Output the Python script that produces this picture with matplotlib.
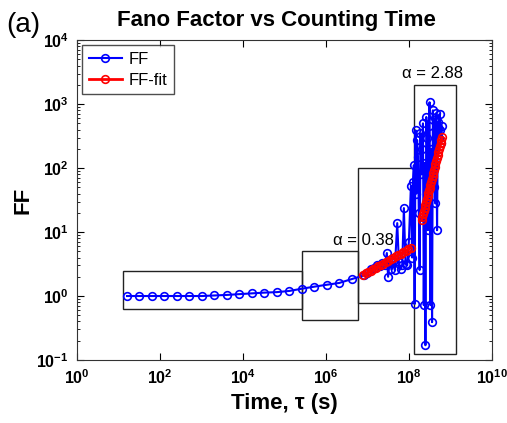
import matplotlib.pyplot as plt
from matplotlib.patches import Rectangle
import numpy as np

plt.rcParams['font.family'] = ['Liberation Sans', 'DejaVu Sans']

# FF (blue) : counting time and Fano factor
tau_ff = [16, 32, 64, 128, 256, 512, 1024, 2048, 4096, 8192, 16384, 32768,
          65536, 131072, 262144, 524288, 1048576, 2097152, 4194304, 8388608,
          1.00e7, 1.20e7, 1.41e7, 1.66e7, 2.00e7, 2.29e7, 2.63e7, 2.95e7,
          3.16e7, 3.47e7, 3.80e7, 4.17e7, 4.57e7, 5.25e7, 5.75e7, 6.31e7,
          6.92e7, 7.59e7, 8.32e7, 9.12e7, 1.00e8, 1.12e8, 1.20e8, 1.26e8,
          1.32e8, 1.38e8, 1.45e8, 1.51e8, 1.58e8, 1.66e8, 1.74e8, 1.82e8,
          1.91e8, 2.00e8, 2.09e8, 2.19e8, 2.29e8, 2.40e8, 2.51e8, 2.63e8,
          2.75e8, 2.88e8, 3.02e8, 3.16e8, 3.31e8, 3.47e8, 3.63e8, 3.80e8,
          3.98e8, 4.17e8, 4.37e8, 4.57e8, 4.79e8, 5.01e8, 5.25e8, 5.50e8,
          5.75e8, 6.03e8, 6.31e8]
ff = [1.0, 1.0, 1.0, 1.0, 1.0, 1.0, 1.0, 1.02, 1.04, 1.07, 1.1, 1.13,
      1.15, 1.2, 1.3, 1.4, 1.5, 1.6, 1.84, 2.1,
      2.3, 2.6, 2.7, 3.0, 2.9, 3.3, 3.1, 4.7,
      2.0, 3.6, 2.6, 3.4, 2.55, 13.8, 3.4, 2.6,
      3.0, 23.7, 3.2, 3.0, 7.0, 52, 4.0, 60,
      111, 0.75, 390, 40, 275, 150, 20, 2.55,
      350, 80, 200, 500, 0.72, 120, 0.17, 630,
      300, 10.7, 450, 1070, 0.72, 200, 0.39, 800,
      50, 600, 28, 720, 10.7, 520, 300, 700,
      400, 250, 450]

# FF-fit (red), two power-law segments
tau_fit1 = [7.94e6, 9.12e6, 1.05e7, 1.20e7, 1.38e7, 1.58e7, 1.82e7, 2.09e7,
            2.40e7, 2.75e7, 3.16e7, 3.63e7, 4.17e7, 4.79e7, 5.50e7, 6.31e7,
            7.24e7, 8.32e7, 9.55e7, 1.10e8]
ff_fit1 = [2.14, 2.25, 2.37, 2.49, 2.62, 2.76, 2.90, 3.05, 3.22, 3.39,
           3.56, 3.75, 3.95, 4.15, 4.37, 4.60, 4.84, 5.10, 5.37, 5.65]
tau_fit2 = [2.04e8, 2.12e8, 2.21e8, 2.30e8, 2.40e8, 2.50e8, 2.60e8, 2.71e8,
            2.82e8, 2.93e8, 3.05e8, 3.18e8, 3.31e8, 3.45e8, 3.59e8, 3.74e8,
            3.89e8, 4.05e8, 4.22e8, 4.39e8, 4.57e8, 4.76e8, 4.95e8, 5.16e8,
            5.37e8, 5.59e8, 5.82e8, 6.06e8, 6.31e8]
ff_fit2 = [15.5, 17.2, 19.1, 21.3, 23.7, 26.3, 29.2, 32.5, 36.2, 40.2,
           44.7, 49.7, 55.3, 61.5, 68.4, 76.0, 84.5, 94.0, 104, 116,
           129, 144, 160, 178, 197, 220, 244, 272, 302]

# boxes (x0, x1, y0, y1)
boxes = [(13, 2.6e5, 0.63, 2.45),
         (2.6e5, 5.9e6, 0.42, 5.0),
         (5.9e6, 1.32e8, 0.78, 100),
         (1.32e8, 1.35e9, 0.125, 2000)]
alpha_labels = ['\u03b1 = 0.38', '\u03b1 = 2.88']
alpha_pos = [(8.0e6, 5.6), (3.8e8, 2300)]

fig = plt.figure(figsize=(5.07, 4.23), dpi=100)
ax = fig.add_axes([0.152, 0.149, 0.818, 0.756])

ax.plot(tau_ff, ff, '-o', color='blue', lw=1.5, ms=5.5, mfc='none', mew=1.2, label='FF')
ax.plot(tau_fit1, ff_fit1, '-o', color='red', lw=2, ms=5.5, mfc='none', mew=1.2, label='FF-fit')
ax.plot(tau_fit2, ff_fit2, '-o', color='red', lw=2, ms=5.5, mfc='none', mew=1.2)

for x0, x1, y0, y1 in boxes:
    ax.add_patch(Rectangle((x0, y0), x1 - x0, y1 - y0, fill=False, ec='#222222', lw=1))

for s, (x, y) in zip(alpha_labels, alpha_pos):
    ax.text(x, y, s, fontsize=12, ha='center', va='bottom')

ax.set_xscale('log')
ax.set_yscale('log')
ax.set_xlim(1, 1e10)
ax.set_ylim(0.1, 1e4)
ax.set_xticks([1, 1e2, 1e4, 1e6, 1e8, 1e10])
ax.xaxis.set_minor_locator(plt.NullLocator())
ax.tick_params(which='both', direction='in', top=True, right=True, labelsize=11.5)
ax.tick_params(which='major', length=5, pad=6)
ax.tick_params(which='minor', length=2.5)
for lab in ax.get_xticklabels() + ax.get_yticklabels():
    lab.set_fontweight('bold')
for sp in ax.spines.values():
    sp.set_color('#333333')

ax.set_xlabel('Time, \u03c4 (s)', fontsize=16, fontweight='bold', labelpad=4)
ax.set_ylabel('FF', fontsize=16, fontweight='bold', labelpad=2)
ax.set_title('Fano Factor vs Counting Time', fontsize=16, fontweight='bold', pad=10, x=0.48)
fig.text(0.012, 0.925, '(a)', fontsize=20)

leg = ax.legend(loc='upper left', fontsize=12, fancybox=False, edgecolor='#222222',
                borderaxespad=0.3, handlelength=2.0, handletextpad=0.4,
                borderpad=0.4, labelspacing=0.35)
leg.get_frame().set_linewidth(1)

fig.savefig('out.png', dpi=100)
